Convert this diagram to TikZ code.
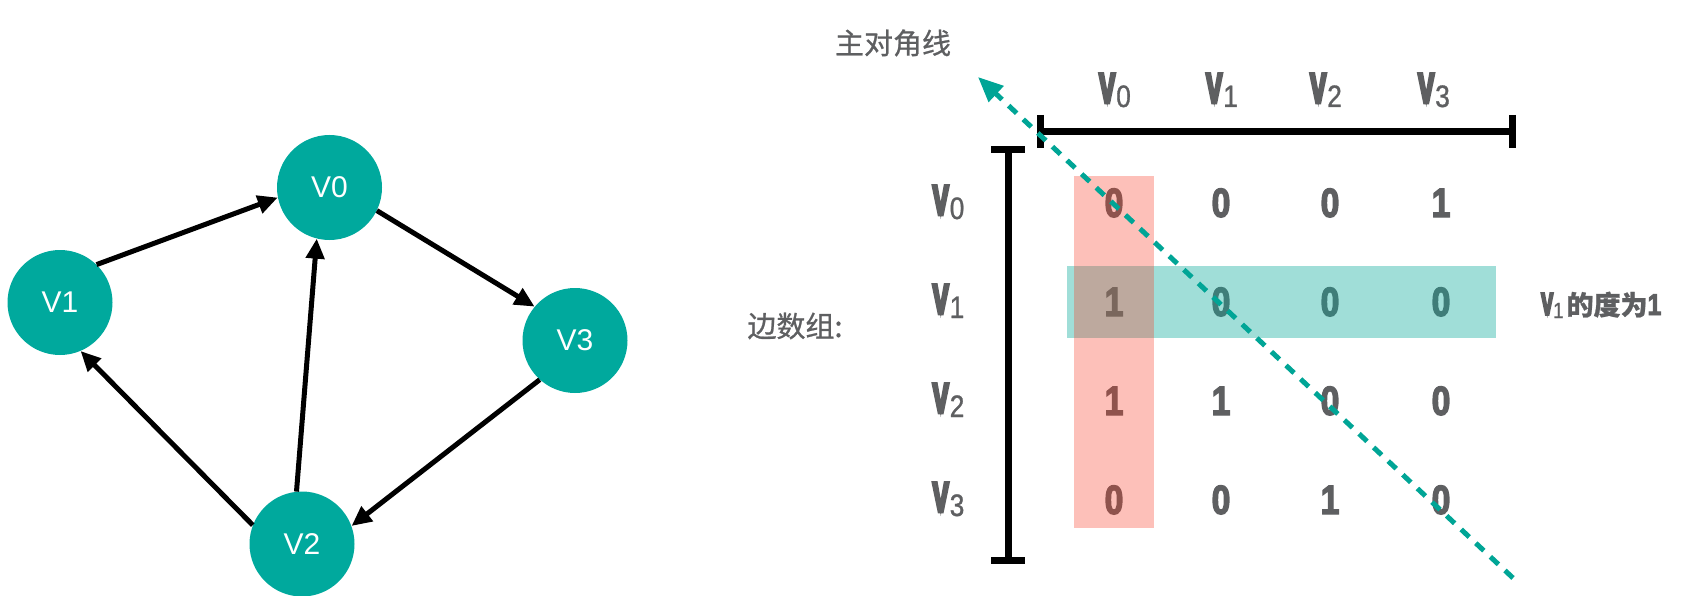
\documentclass[tikz,border=0pt]{standalone}
\usepackage{fontspec}
\usepackage{graphicx}
\setmainfont{Liberation Sans}
\newfontfamily\cjk[FakeBold=0.8]{Noto Sans CJK SC}
\newfontfamily\vfont[FakeStretch=0.56,FakeBold=6]{Liberation Sans}
\newfontfamily\sfont[FakeStretch=0.85,FakeBold=1]{Liberation Sans}
\newfontfamily\dfont[FakeStretch=0.82,FakeBold=3]{Liberation Sans}
\usetikzlibrary{arrows.meta}
\definecolor{nodeteal}{HTML}{00A99D}
\definecolor{txtgray}{HTML}{5E5F61}
\definecolor{diagteal}{HTML}{00A596}
\definecolor{pinkfill}{HTML}{F93A24}
\definecolor{tealfill}{HTML}{12AC9D}
\newcommand{\Vlab}[1]{{\vfont\bfseries\fontsize{43}{43}\selectfont V}\kern1pt\raisebox{-4pt}{\sfont\fontsize{31}{31}\selectfont #1}}
\newcommand{\Dg}[1]{{\dfont\bfseries\fontsize{41}{41}\selectfont #1}}
\tikzset{
  gnode/.style={circle, fill=nodeteal, minimum size=105pt, inner sep=0pt, text=white, font=\fontsize{30}{30}\selectfont},
  edge/.style={line width=5pt, draw=black, -{Triangle[length=20pt,width=18pt]}},
  bar/.style={line width=7pt, draw=black},
  lab/.style={inner sep=0pt, text=txtgray, anchor=base},
  cell/.style={inner sep=0pt, text=txtgray, anchor=base},
  cjklab/.style={inner sep=0pt, text=txtgray, font=\cjk\fontsize{29}{29}\selectfont},
  diag/.style={draw=diagteal, line width=5pt, dash pattern=on 11pt off 9pt, -{Triangle[length=25pt,width=21pt]}}
}
\begin{document}
\begin{tikzpicture}[x=1pt, y=-1pt]
\useasboundingbox (0,0) rectangle (1688,596);
% graph
\node[gnode] (V0) at (329.5,187.5) {V0};
\node[gnode] (V1) at (60,302.5) {V1};
\node[gnode] (V3) at (575,340.5) {V3};
\node[gnode] (V2) at (302,544) {V2};
\draw[edge] (V1.46) -- (V0.191.5);
\draw[edge] (V0.334) -- (V3.140);
\draw[edge] (V3.228.7) -- (V2.20.7);
\draw[edge] (V2.159.6) -- (V1.293);
\draw[edge] (V2.96) -- (V0.256);
% labels
\node[cjklab] (diaglab) at (893,43) {主对角线};
\node[cjklab] (edgelab) at (795,326) {边数组:};
\node[inner sep=0pt, text=txtgray, anchor=base west] (deg) at (1541,315)
  {{\vfont\bfseries\fontsize{32}{32}\selectfont V}\raisebox{-3pt}{\sfont\fontsize{22}{22}\selectfont 1}\kern3pt{\cjk\fontsize{27}{27}\selectfont\bfseries 的度为}{\dfont\bfseries\fontsize{30}{30}\selectfont 1}};
% frame bars
\draw[bar] (1040,131.5) -- (1512,131.5);
\draw[bar] (1040,115) -- (1040,148);
\draw[bar] (1512,115) -- (1512,148);
\draw[bar] (1008,150) -- (1008,560);
\draw[bar] (991,150) -- (1025,150);
\draw[bar] (991,560) -- (1025,560);
% headers
\node[lab] (h0) at (1115,103) {\Vlab{0}};
\node[lab] (h1) at (1222,103) {\Vlab{1}};
\node[lab] (h2) at (1326,103) {\Vlab{2}};
\node[lab] (h3) at (1434,103) {\Vlab{3}};
\node[lab] (r0) at (948.5,215) {\Vlab{0}};
\node[lab] (r1) at (948.5,314) {\Vlab{1}};
\node[lab] (r2) at (948.5,413) {\Vlab{2}};
\node[lab] (r3) at (948.5,512) {\Vlab{3}};
% matrix
\node[cell] (m00) at (1114,217) {\Dg{0}};
\node[cell] (m01) at (1221,217) {\Dg{0}};
\node[cell] (m02) at (1330,217) {\Dg{0}};
\node[cell] (m03) at (1441,217) {\Dg{1}};
\node[cell] (m10) at (1114,316) {\Dg{1}};
\node[cell] (m11) at (1221,316) {\Dg{0}};
\node[cell] (m12) at (1330,316) {\Dg{0}};
\node[cell] (m13) at (1441,316) {\Dg{0}};
\node[cell] (m20) at (1114,415) {\Dg{1}};
\node[cell] (m21) at (1221,415) {\Dg{1}};
\node[cell] (m22) at (1330,415) {\Dg{0}};
\node[cell] (m23) at (1441,415) {\Dg{0}};
\node[cell] (m30) at (1114,514) {\Dg{0}};
\node[cell] (m31) at (1221,514) {\Dg{0}};
\node[cell] (m32) at (1330,514) {\Dg{1}};
\node[cell] (m33) at (1441,514) {\Dg{0}};
% highlight
\fill[tealfill, opacity=0.4] (1067,266) rectangle (1496,338);
\fill[pinkfill, opacity=0.32] (1074,176) rectangle (1154,528);
% diagonal
\coordinate (dtop) at (978,77);
\coordinate (dbot) at (1513,578);
\draw[diag] (dbot) -- (dtop);
\end{tikzpicture}
\end{document}
